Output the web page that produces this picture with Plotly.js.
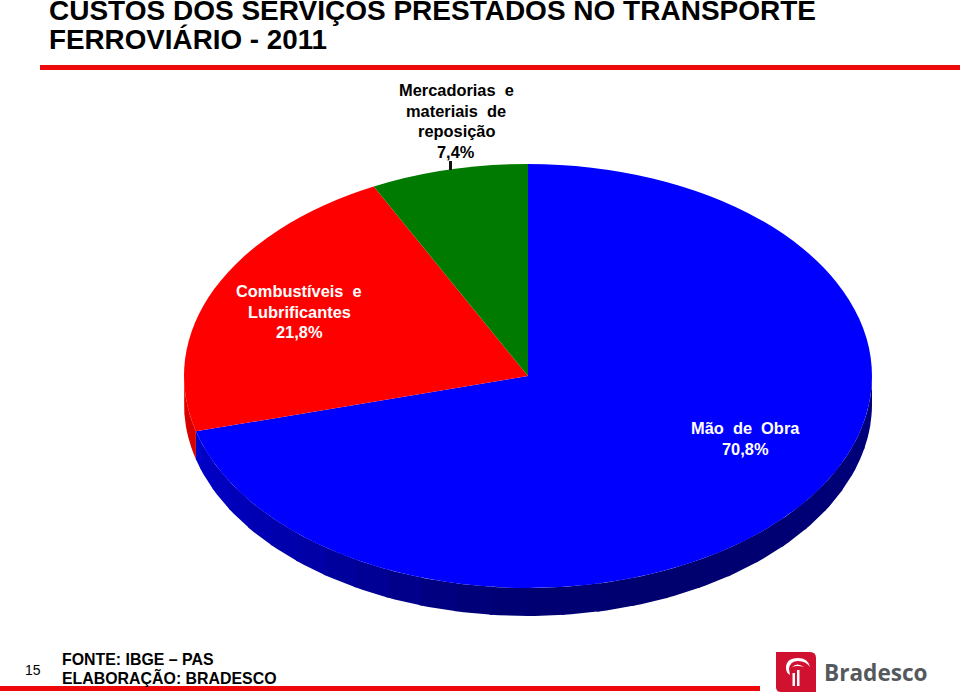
<!DOCTYPE html>
<html>
<head>
<meta charset="utf-8">
<script src="https://cdn.plot.ly/plotly-3.0.1.min.js"></script>
<style>html,body{margin:0;padding:0;background:#fff}#chart{width:960px;height:697px}</style>
</head>
<body>
<div id="chart"></div>
<script>
var categories = ['Mão de Obra', 'Combustíveis e Lubrificantes', 'Mercadorias e materiais de reposição'];
var shares = [70.8, 21.8, 7.4];
var topColors = ['#0000ff', '#ff0000', '#007a00'];
var sideChannel = ['blue', 'red', 'green'];
var titleLines = ['CUSTOS DOS SERVIÇOS PRESTADOS NO TRANSPORTE', 'FERROVIÁRIO - 2011'];
var labelLinesGoods = ['Mercadorias\u00a0 e', 'materiais\u00a0 de', 'reposição', '7,4%'];
var labelLinesFuel = ['Combustíveis\u00a0 e', 'Lubrificantes', '21,8%'];
var labelLinesLabour = ['Mão\u00a0 de\u00a0 Obra', '70,8%'];

var W = 960, H = 697, cx = 528, cy = 376, rx = 344, ry = 212, depth = 28;
var FONT = 'Liberation Sans, Arial, sans-serif';

function shade(a) {
  var stops = [[90, 125], [150, 110], [185, 118], [215, 165], [255, 205], [270, 215]];
  for (var i = 1; i < stops.length; i++) {
    if (a <= stops[i][0]) {
      var f = (a - stops[i - 1][0]) / (stops[i][0] - stops[i - 1][0]);
      return Math.round(stops[i - 1][1] + f * (stops[i][1] - stops[i - 1][1]));
    }
  }
  return 215;
}
function px(a) { return cx + rx * Math.sin(a * Math.PI / 180); }
function py(a) { return cy - ry * Math.cos(a * Math.PI / 180); }

// Visible rim of the disc: one narrow band per few degrees, cut at the slice boundaries
var traces = [];
var total = shares.reduce(function (s, v) { return s + v; }, 0), start = 0;
shares.forEach(function (v, i) {
  var end = start + v / total * 360;
  var a0 = Math.max(start, 90), a1 = Math.min(end, 270);
  for (var a = a0; a < a1; a += 6) {
    var b = Math.min(a + 6.4, a1), xs = [], ys = [], n;
    for (n = 0; n <= 4; n++) { var t = a + (b - a) * n / 4; xs.push(px(t)); ys.push(py(t)); }
    for (n = 4; n >= 0; n--) { var u = a + (b - a) * n / 4; xs.push(px(u)); ys.push(py(u) + depth); }
    var s = shade(a);
    var col = sideChannel[i] === 'blue' ? 'rgb(0,0,' + s + ')' : 'rgb(' + Math.min(255, s + 10) + ',0,0)';
    traces.push({ type: 'scatter', mode: 'lines', x: xs, y: ys, fill: 'toself', fillcolor: col,
      line: { width: 0 }, hoverinfo: 'skip', showlegend: false });
  }
  start = end;
});

traces.push({
  type: 'pie', labels: categories, values: shares, sort: false, direction: 'clockwise', rotation: 0,
  marker: { colors: topColors, line: { width: 0 } }, textinfo: 'none', showlegend: false,
  domain: { x: [(cx - ry) / W, (cx + ry) / W], y: [1 - (cy + ry) / H, 1 - (cy - ry) / H] }
});

function note(text, x, y, size, opts, color) {
  return Object.assign({ text: text, x: x / W, y: 1 - y / H, xref: 'paper', yref: 'paper', showarrow: false,
    xanchor: 'center', yanchor: 'middle', align: 'center',
    font: { family: FONT, size: size, color: color || '#000' } }, opts || {});
}
function block(lines, x, y0, color) {
  return lines.map(function (l, i) { return note('<b>' + l + '</b>', x, y0 + i * 20.6, 16.4, null, color); });
}
var left = { xanchor: 'left', align: 'left' };
var annotations = [
  note('<b>' + titleLines[0] + '</b>', 47, 10, 28, left),
  note('<b>' + titleLines[1] + '</b>', 47, 40, 27.8, left),
  note('15', 33, 670, 14),
  note('<b>FONTE: IBGE \u2013 PAS</b>', 60, 659, 15.9, left),
  note('<b>ELABORAÇÃO: BRADESCO</b>', 60, 677.5, 15.9, left),
  note('<b>Bradesco</b>', 876, 672, 22.6, { font: { family: 'Open Sans, sans-serif', size: 22.6, color: '#55585c' } })
].concat(block(labelLinesGoods, 456, 90), block(labelLinesFuel, 299, 291, '#fff'), block(labelLinesLabour, 745, 428, '#fff'));

function rect(x0, y0, x1, y1, c) {
  return { type: 'rect', xref: 'x', yref: 'y', x0: x0, y0: y0, x1: x1, y1: y1, fillcolor: c, line: { width: 0 } };
}
var logoRed = '#d01130';
var shapes = [
  rect(40, 65, 960, 70, '#ee0a0a'),
  rect(0, 686, 760, 691, '#ee0a0a'),
  rect(449, 161, 452, 170, '#111'),
  { type: 'path', xref: 'x', yref: 'y', path: 'M776,652 L810,652 Q816,652 816,658 L816,692 L781,692 Q776,692 776,687 Z', fillcolor: logoRed, line: { width: 0 } },
  { type: 'path', xref: 'x', yref: 'y', path: 'M786,668 Q786,658 798,658 Q808,658 810,667 Q806,661 798,661 Q790,661 789,669 L790,675 Q786,673 786,668 Z', fillcolor: '#fff', line: { width: 0 } },
  { type: 'path', xref: 'x', yref: 'y', path: 'M792,667 Q797,662 804,667 Q797,665 792,667 Z', fillcolor: '#fff', line: { width: 0 } },
  rect(792.5, 673, 795, 686, '#fff'),
  rect(797, 670, 799.5, 686, '#fff')
];

var layout = {
  width: W, height: H, margin: { l: 0, r: 0, t: 0, b: 0 }, paper_bgcolor: '#fff', plot_bgcolor: '#fff', showlegend: false,
  xaxis: { range: [0, W], visible: false, fixedrange: true },
  yaxis: { range: [H, 0], visible: false, fixedrange: true },
  annotations: annotations, shapes: shapes
};
Plotly.newPlot('chart', traces, layout, { displayModeBar: false, staticPlot: true }).then(function (gd) {
  // The reference disc is seen in perspective: widen the library's circular pie into its ellipse.
  var k = rx / ry;
  gd.querySelectorAll('.pielayer g.trace').forEach(function (g) {
    g.setAttribute('transform', 'translate(' + cx + ',0) scale(' + k + ',1) translate(' + (-cx) + ',0)');
  });
});
</script>
</body>
</html>
